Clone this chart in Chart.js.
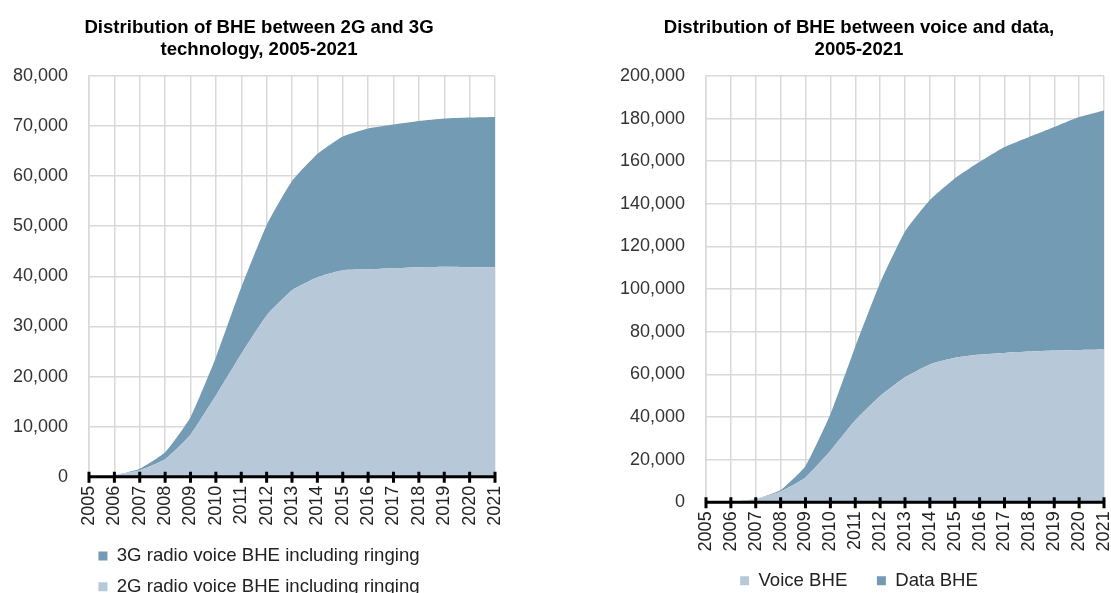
<!DOCTYPE html>
<html>
<head>
<meta charset="utf-8">
<script src="https://cdn.jsdelivr.net/npm/chart.js@4.4.1/dist/chart.umd.min.js"></script>
<style>
  html, body { margin: 0; padding: 0; background: #fff; overflow: hidden; }
  #left { position: absolute; left: 0; top: 0; width: 518px; height: 606px; }
  #right { position: absolute; left: 607px; top: 0; width: 504px; height: 600px; }
</style>
</head>
<body>
<div id="left"><canvas id="chart-tecnologia"></canvas></div>
<div id="right"><canvas id="chart-servicio"></canvas></div>
<script>
  // years on the x axis
  const years = ['2005', '2006', '2007', '2008', '2009', '2010', '2011', '2012', '2013',
    '2014', '2015', '2016', '2017', '2018', '2019', '2020', '2021'];

  // left chart: BHE by technology
  const bhe2G = [0, 300, 1300, 3500, 8400, 16200, 24500, 32200, 37200, 39800, 41200, 41400, 41600, 41800, 41900, 41800, 41800];
  const bhe3G = [0, 0, 300, 1400, 3500, 7600, 13300, 18000, 21800, 24600, 26700, 28100, 28700, 29200, 29600, 29900, 30000];

  // right chart: BHE by service
  const voiceBHE = [0, 300, 1500, 5100, 11700, 24200, 38500, 49900, 58700, 64700, 67800, 69300, 70100, 70700, 71200, 71500, 71700];
  const dataBHE = [0, 0, 100, 700, 5400, 17100, 34500, 53000, 68300, 77100, 84100, 90400, 96600, 100700, 104800, 109200, 112100];

  const colorClaro = 'rgb(183, 201, 216)';
  const colorOscuro = 'rgb(116, 155, 180)';
  const gridColor = '#d9d9d9';
  const fontFamily = "'Liberation Sans', Arial, sans-serif";

  // black x axis with marks crossing it, drawn on top of the filled areas
  const ejeNegro = {
    id: 'ejeNegro',
    afterDatasetsDraw(chart) {
      const { ctx, chartArea, scales: { x } } = chart;
      ctx.save();
      ctx.strokeStyle = '#000';
      ctx.lineWidth = 3;
      ctx.beginPath();
      ctx.moveTo(chartArea.left - 1, chartArea.bottom);
      ctx.lineTo(chartArea.right + 1, chartArea.bottom);
      x.ticks.forEach((t, i) => {
        let px = x.getPixelForTick(i);
        ctx.moveTo(px, chartArea.bottom - 5);
        ctx.lineTo(px, chartArea.bottom + 6);
      });
      ctx.stroke();
      ctx.restore();
    }
  };

  // title and legend centred a bit to the right of the canvas centre, like the original
  function centrar(shift) {
    return {
      id: 'centrar',
      afterLayout(chart) {
        chart.titleBlock.left = shift;
        chart.legend.left = shift;
      }
    };
  }

  function opciones(titulo, max, step, yWidth, legendPadding, reverse, padRight) {
    return {
      responsive: true,
      maintainAspectRatio: false,
      animation: false,
      layout: { padding: { left: 0, right: padRight, top: 0, bottom: 0 } },
      elements: { point: { radius: 0 }, line: { borderWidth: 0, tension: 0.15 } },
      plugins: {
        title: {
          display: true,
          text: titulo,
          color: '#000',
          font: { family: fontFamily, size: 18.6, weight: 'bold', lineHeight: 1.18 },
          padding: { top: 17, bottom: 15 }
        },
        legend: {
          position: 'bottom',
          reverse: reverse,
          labels: {
            color: '#222',
            font: { family: fontFamily, size: 18.6 },
            boxWidth: 9,
            boxHeight: 9,
            padding: legendPadding
          }
        },
        tooltip: { enabled: false }
      },
      scales: {
        x: {
          offset: false,
          afterFit(scale) { scale.paddingRight = 0; scale.paddingLeft = 0; },
          grid: { color: gridColor, lineWidth: 1.5, drawTicks: false },
          border: { display: false },
          ticks: {
            color: '#222',
            font: { family: fontFamily, size: 18 },
            minRotation: 90,
            maxRotation: 90,
            padding: 9,
            autoSkip: false
          }
        },
        y: {
          stacked: true,
          min: 0,
          max: max,
          afterFit(scale) { scale.width = yWidth; },
          grid: { color: gridColor, lineWidth: 1.5, drawTicks: false },
          border: { color: gridColor, width: 1.5 },
          ticks: {
            stepSize: step,
            color: '#333',
            padding: 21,
            font: { family: fontFamily, size: 18 },
            callback: v => v.toLocaleString('en-US')
          }
        }
      }
    };
  }

  /* ===== left chart ===== */
  let canvasTecnologia = document.getElementById('chart-tecnologia').getContext('2d');

  new Chart(canvasTecnologia, {
    type: 'line',
    data: {
      labels: years,
      datasets: [{
        label: '2G radio voice BHE including ringing',
        data: bhe2G,
        backgroundColor: colorClaro,
        borderColor: colorClaro,
        fill: 'origin'
      }, {
        label: '3G radio voice BHE including ringing',
        data: bhe3G,
        backgroundColor: colorOscuro,
        borderColor: colorOscuro,
        fill: '-1'
      }]
    },
    options: opciones(['Distribution of BHE between 2G and 3G', 'technology, 2005-2021'],
      80000, 10000, 89, 12, true, 23),
    plugins: [ejeNegro, centrar(23)]
  });

  /* ===== right chart ===== */
  let canvasServicio = document.getElementById('chart-servicio').getContext('2d');

  let servicioOpciones = opciones(['Distribution of BHE between voice and data,', '2005-2021'],
    200000, 20000, 99, 11, false, 7);

  // wider gap between the two legend items, like the original
  servicioOpciones.plugins.legend.labels.generateLabels = chart => {
    let items = Chart.defaults.plugins.legend.labels.generateLabels(chart);
    items[0].text = items[0].text + '\u2003';
    return items;
  };

  new Chart(canvasServicio, {
    type: 'line',
    data: {
      labels: years,
      datasets: [{
        label: 'Voice BHE',
        data: voiceBHE,
        backgroundColor: colorClaro,
        borderColor: colorClaro,
        fill: 'origin'
      }, {
        label: 'Data BHE',
        data: dataBHE,
        backgroundColor: colorOscuro,
        borderColor: colorOscuro,
        fill: '-1'
      }]
    },
    options: servicioOpciones,
    plugins: [ejeNegro, centrar(7)]
  });
</script>
</body>
</html>
